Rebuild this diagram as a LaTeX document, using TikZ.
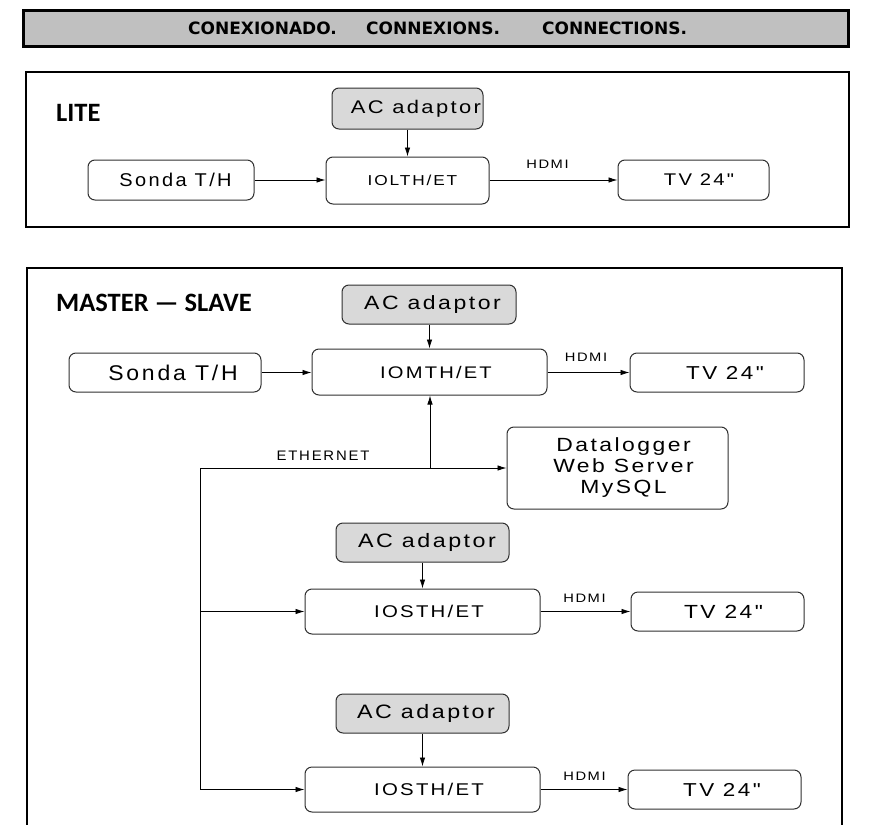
\documentclass[tikz,border=0pt]{standalone}
\usepackage{fontspec}
\usetikzlibrary{arrows.meta}
\newfontfamily\arl[FakeStretch=1.2,LetterSpace=13]{Liberation Sans}
\newfontfamily\arn[FakeStretch=1.08,LetterSpace=13]{Liberation Sans}
\newfontfamily\ttlfont{DejaVu Sans}
\newfontfamily\hdfont{Carlito}
\definecolor{barGray}{HTML}{C0C0C0}
\definecolor{acGray}{HTML}{D9D9D9}
\definecolor{boxLine}{HTML}{303030}
\newcommand{\fsz}[1]{\fontsize{#1}{21}\selectfont}
\tikzset{
  frame/.style={line width=2pt, draw=black},
  box/.style={draw=boxLine, rounded corners=7pt, line width=1pt, inner sep=0pt, fill=white},
  acbox/.style={box, fill=acGray},
  arr/.style={-{Latex[length=9pt,width=5.5pt]}, line width=0.8pt},
  wire/.style={line width=0.8pt},
  lbl/.style={inner sep=0pt, font={\arl\fsz{12.25}}},
  ttl/.style={inner sep=0pt, anchor=west, font={\ttlfont\bfseries\fontsize{17}{18}\selectfont}},
  hd/.style={inner sep=0pt, anchor=west, font={\hdfont\bfseries\fontsize{26.5}{28}\selectfont}},
}
\begin{document}
\begin{tikzpicture}[x=1pt,y=-1pt]
\useasboundingbox (0,0) rectangle (871,825);
% title bar
\draw[line width=3pt, fill=barGray] (23,10) rectangle (848,46);
\node[ttl] (t1) at (188,28) {CONEXIONADO.};
\node[ttl] (t2) at (366,28) {CONNEXIONS.};
\node[ttl] (t3) at (542,28) {CONNECTIONS.};
% LITE
\draw[frame] (26,72) rectangle (849,227);
\node[hd] (lite) at (56,113) {LITE};
\node[acbox, minimum width=151pt, minimum height=41pt, font={\arl\fsz{18.3}}] (acL) at (407.5,108.5) {\hspace*{17pt}AC adaptor};
\node[box, minimum width=163pt, minimum height=47pt, font={\arl\fsz{14.4}}] (ioL) at (407.5,180.5) {\hspace*{10pt}IOLTH/ET};
\node[box, minimum width=166pt, minimum height=40pt, font={\arn\fsz{18.5}}] (sondaL) at (171,180) {\hspace*{9pt}Sonda T/H};
\node[box, minimum width=151pt, minimum height=40pt, font={\arl\fsz{16.9}}] (tvL) at (693.5,180) {\hspace*{11pt}TV 24"};
\node[lbl] (hdL) at (547.5,164) {HDMI};
\draw[arr] (acL.south) -- (ioL.north);
\draw[arr] (sondaL.east) -- (sondaL.east -| ioL.west);
\draw[arr] (ioL.east |- tvL.west) -- (tvL.west);
% MASTER - SLAVE
\draw[frame] (27,825) -- (27,268) -- (842,268) -- (842,825);
\node[hd] (ms) at (56,303) {MASTER — SLAVE};
\node[acbox, minimum width=174pt, minimum height=39pt, font={\arl\fsz{19.2}}] (acM) at (429,304.5) {\hspace*{7pt}AC adaptor};
\node[box, minimum width=235pt, minimum height=46pt, font={\arl\fsz{16.8}}] (ioM) at (429.5,372) {\hspace*{13pt}IOMTH/ET};
\node[box, minimum width=192pt, minimum height=39pt, font={\arn\fsz{21.3}}] (sondaM) at (165,372.5) {\hspace*{16pt}Sonda T/H};
\node[box, minimum width=174pt, minimum height=39pt, font={\arl\fsz{18.7}}] (tvM) at (717,372.5) {\hspace*{16pt}TV 24"};
\node[lbl] (hdM) at (586,357) {HDMI};
\draw[arr] (acM.south -| ioM.north) -- (ioM.north);
\draw[arr] (sondaM.east) -- (sondaM.east -| ioM.west);
\draw[arr] (ioM.east |- tvM.west) -- (tvM.west);
% datalogger + ethernet
\node[box, minimum width=221pt, minimum height=82pt, align=center, font={\arl\fsz{19.1}}] (dl) at (617.5,468) {\hspace*{12pt}Datalogger\\\hspace*{12pt}Web Server\\\hspace*{12pt}MySQL};
\node[lbl, font={\arn\fsz{13.8}}] (eth) at (323,456) {ETHERNET};
\coordinate (ethJ) at (430,468);
\coordinate (ethL) at (200,468);
% slaves
\node[acbox, minimum width=173pt, minimum height=39pt, font={\arl\fsz{19.4}}] (acS1) at (422.5,542.5) {\hspace*{9pt}AC adaptor};
\node[box, minimum width=235pt, minimum height=45pt, font={\arl\fsz{17}}] (ioS1) at (422.5,611.5) {\hspace*{13pt}IOSTH/ET};
\node[box, minimum width=173pt, minimum height=39pt, font={\arl\fsz{19}}] (tvS1) at (717.5,611.5) {\hspace*{12pt}TV 24"};
\node[lbl] (hdS1) at (584.5,598) {HDMI};
\node[acbox, minimum width=173pt, minimum height=39pt, font={\arl\fsz{19.4}}] (acS2) at (422.5,713.5) {\hspace*{7pt}AC adaptor};
\node[box, minimum width=235pt, minimum height=45pt, font={\arl\fsz{17}}] (ioS2) at (422.5,789.5) {\hspace*{13pt}IOSTH/ET};
\node[box, minimum width=173pt, minimum height=39pt, font={\arl\fsz{18.7}}] (tvS2) at (714.5,789.5) {\hspace*{15pt}TV 24"};
\node[lbl] (hdS2) at (584.5,776) {HDMI};
% connectors
\draw[arr] (ethJ) -- (ethJ |- ioM.south);
\draw[arr] (ethL) -- (ethL -| dl.west);
\draw[wire] (ethL) -- (ethL |- ioS2.west);
\draw[arr] (ethL |- ioS1.west) -- (ioS1.west);
\draw[arr] (ethL |- ioS2.west) -- (ioS2.west);
\draw[arr] (acS1.south) -- (ioS1.north);
\draw[arr] (acS2.south) -- (ioS2.north);
\draw[arr] (ioS1.east) -- (ioS1.east -| tvS1.west);
\draw[arr] (ioS2.east) -- (ioS2.east -| tvS2.west);
\end{tikzpicture}
\end{document}
